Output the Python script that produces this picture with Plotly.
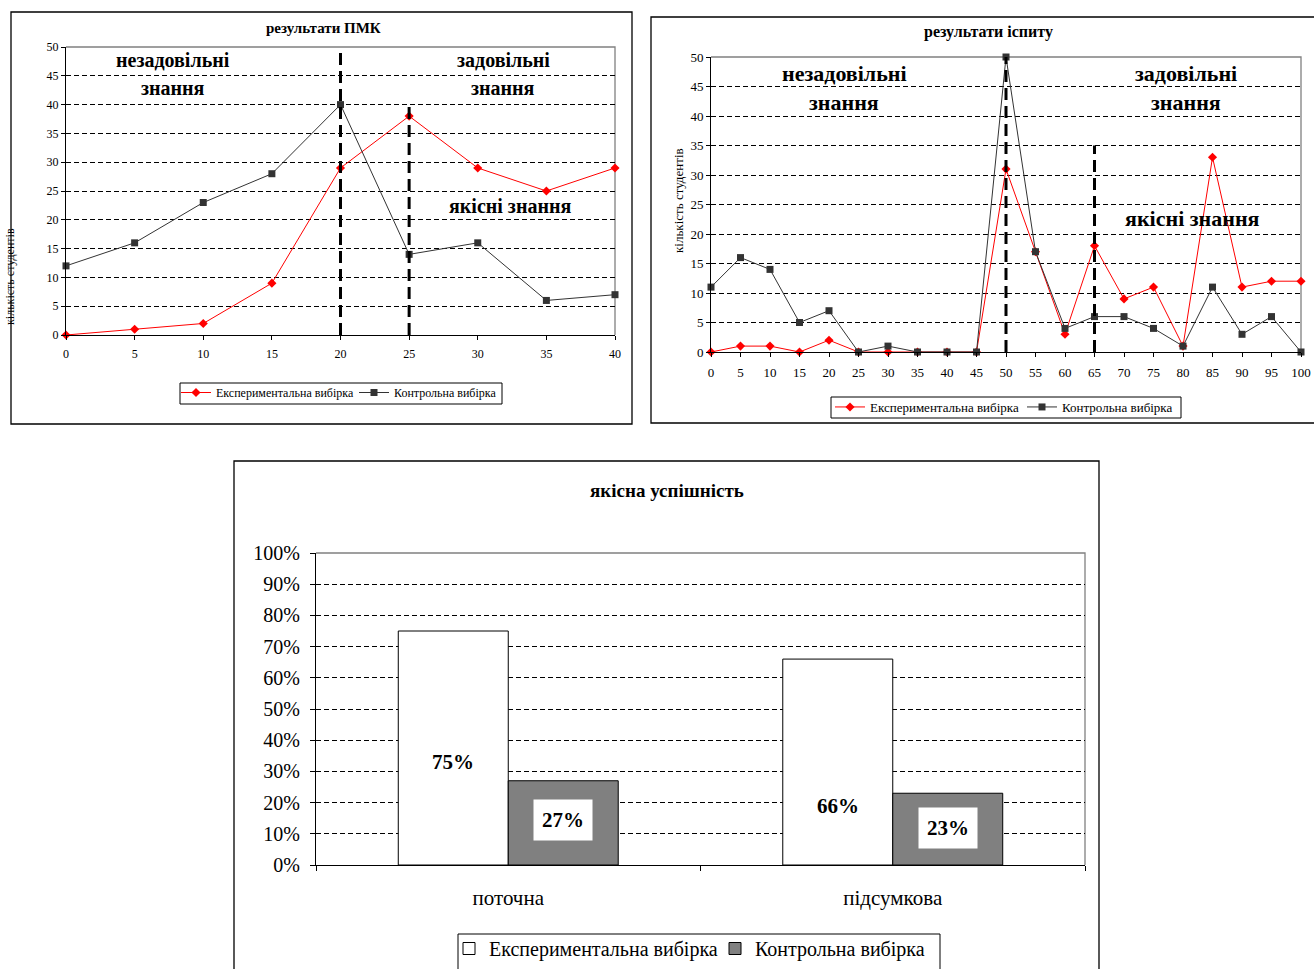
import plotly.graph_objects as go

# ---- data ----
pmk_scores = [0, 5, 10, 15, 20, 25, 30, 35, 40]
pmk_exp = [0, 1, 2, 9, 29, 38, 29, 25, 29]
pmk_ctrl = [12, 16, 23, 28, 40, 14, 16, 6, 7]
pmk_bounds = [20, 25]
pmk_bound_tops = [50, 40]

exam_scores = [0, 5, 10, 15, 20, 25, 30, 35, 40, 45, 50,
               55, 60, 65, 70, 75, 80, 85, 90, 95, 100]
exam_exp = [0, 1, 1, 0, 2, 0, 0, 0, 0, 0, 31,
            17, 3, 18, 9, 11, 1, 33, 11, 12, 12]
exam_ctrl = [11, 16, 14, 5, 7, 0, 1, 0, 0, 0, 50,
             17, 4, 6, 6, 4, 1, 11, 3, 6, 0]
exam_bounds = [50, 65]
exam_bound_tops = [50, 35]

quality_cats = ["поточна", "підсумкова"]
quality_exp = [0.75, 0.66]
quality_ctrl = [0.27, 0.23]

series_names = ["Експериментальна вибірка", "Контрольна вибірка"]

# ---- layout helpers (pixel -> paper) ----
W, H = 1314, 969
FONT = "Liberation Serif"


def px(x):
    return x / W


def py(y):
    return 1 - y / H


fig = go.Figure()

RED = "#ff0000"
DARK = "#333333"

# top-left: ПМК
fig.add_trace(go.Scatter(x=pmk_scores, y=pmk_exp, name=series_names[0],
                         mode="lines+markers", xaxis="x", yaxis="y",
                         line=dict(color=RED, width=1),
                         marker=dict(symbol="diamond", size=7, color=RED),
                         cliponaxis=False, legend="legend"))
fig.add_trace(go.Scatter(x=pmk_scores, y=pmk_ctrl, name=series_names[1],
                         mode="lines+markers", xaxis="x", yaxis="y",
                         line=dict(color=DARK, width=1),
                         marker=dict(symbol="square", size=7, color=DARK),
                         cliponaxis=False, legend="legend"))

# top-right: іспит
fig.add_trace(go.Scatter(x=exam_scores, y=exam_exp, name=series_names[0],
                         mode="lines+markers", xaxis="x2", yaxis="y2",
                         line=dict(color=RED, width=1),
                         marker=dict(symbol="diamond", size=7, color=RED),
                         cliponaxis=False, legend="legend2"))
fig.add_trace(go.Scatter(x=exam_scores, y=exam_ctrl, name=series_names[1],
                         mode="lines+markers", xaxis="x2", yaxis="y2",
                         line=dict(color=DARK, width=1),
                         marker=dict(symbol="square", size=7, color=DARK),
                         cliponaxis=False, legend="legend2"))

# bottom: якісна успішність
fig.add_trace(go.Bar(x=quality_cats, y=quality_exp, name=series_names[0],
                     xaxis="x3", yaxis="y3",
                     marker=dict(color="white", line=dict(color="black", width=1)),
                     legend="legend3"))
fig.add_trace(go.Bar(x=quality_cats, y=quality_ctrl, name=series_names[1],
                     xaxis="x3", yaxis="y3",
                     marker=dict(color="#808080", line=dict(color="black", width=1)),
                     legend="legend3"))

tick12 = dict(family=FONT, size=12, color="black")
tick13 = dict(family=FONT, size=13, color="black")
tick20 = dict(family=FONT, size=20, color="black")
grid_common = dict(showgrid=True, gridcolor="black", gridwidth=1, griddash="5px,3px")


def legend_at(x, y, size, entry):
    return dict(x=px(x), y=py(y), xanchor="left", yanchor="top",
                orientation="h", borderwidth=0, bgcolor="rgba(0,0,0,0)",
                font=dict(family=FONT, size=size, color="black"),
                itemwidth=30, entrywidth=entry, tracegroupgap=0)


fig.update_layout(
    width=W, height=H,
    margin=dict(l=0, r=0, t=0, b=0, autoexpand=False),
    paper_bgcolor="white", plot_bgcolor="white",
    font=dict(family=FONT, color="black"),
    barmode="group", bargap=0.428, bargroupgap=0,
    xaxis=dict(domain=[px(66), px(615)], range=[0, 40], tickvals=pmk_scores,
               showgrid=False, zeroline=False, showline=True, linecolor="black",
               ticks="outside", ticklen=4, tickcolor="black", tickfont=tick12,
               ticklabelstandoff=4, anchor="y"),
    yaxis=dict(domain=[py(335), py(47)], range=[0, 50], dtick=5,
               zeroline=False, showline=True, linecolor="black",
               ticks="outside", ticklen=4, tickcolor="black", tickfont=tick12,
               anchor="x", **grid_common),
    xaxis2=dict(domain=[px(711), px(1301)], range=[0, 100], tickvals=exam_scores,
                showgrid=False, zeroline=False, showline=True, linecolor="black",
                ticks="outside", ticklen=4, tickcolor="black", tickfont=tick13,
                ticklabelstandoff=4, anchor="y2"),
    yaxis2=dict(domain=[py(352), py(57)], range=[0, 50], dtick=5,
                zeroline=False, showline=True, linecolor="black",
                ticks="outside", ticklen=4, tickcolor="black", tickfont=tick13,
                anchor="x2", **grid_common),
    xaxis3=dict(domain=[px(316), px(1085)], showgrid=False, zeroline=False,
                showline=True, linecolor="black", ticks="outside", ticklen=5,
                tickcolor="black", tickson="boundaries",
                tickfont=dict(family=FONT, size=21, color="black"),
                ticklabelstandoff=14, anchor="y3"),
    yaxis3=dict(domain=[py(865), py(553)], range=[0, 1], dtick=0.1,
                tickformat=".0%", zeroline=False, showline=True, linecolor="black",
                ticks="outside", ticklen=5, tickcolor="black", tickfont=tick20,
                ticklabelstandoff=6, anchor="x3", **grid_common),
    legend=legend_at(176, 378, 12, 133),
    legend2=legend_at(830, 392, 13, 147),
    legend3=legend_at(449, 929, 20, 221),
)

shapes = []
# outer frames of the three charts
for x0, y0, x1, y1 in [(11, 12, 632, 424), (651, 17, 1330, 423), (234, 461, 1099, 990)]:
    shapes.append(dict(type="rect", xref="paper", yref="paper",
                       x0=px(x0), x1=px(x1), y0=py(y1), y1=py(y0),
                       line=dict(color="black", width=1.3), layer="above"))
# legend boxes
for x0, y0, x1, y1 in [(180, 383, 502, 404), (831, 397, 1181, 418), (458, 934, 940, 985)]:
    shapes.append(dict(type="rect", xref="paper", yref="paper",
                       x0=px(x0), x1=px(x1), y0=py(y1), y1=py(y0),
                       line=dict(color="black", width=1), fillcolor="white",
                       layer="below"))
# grey top/right border of each plot area
for xr, yr in [("x", "y"), ("x2", "y2"), ("x3", "y3")]:
    shapes.append(dict(type="path", xref=f"{xr} domain", yref=f"{yr} domain",
                       path="M 0,1 L 1,1 L 1,0", line=dict(color="#808080", width=1.3),
                       layer="below"))
# thick dashed boundaries between knowledge levels
for bx, top in zip(pmk_bounds, pmk_bound_tops):
    shapes.append(dict(type="line", xref="x", yref="y", x0=bx, x1=bx, y0=0, y1=top,
                       line=dict(color="black", width=3, dash="12px,6px")))
for bx, top in zip(exam_bounds, exam_bound_tops):
    shapes.append(dict(type="line", xref="x2", yref="y2", x0=bx, x1=bx, y0=0, y1=top,
                       line=dict(color="black", width=3, dash="12px,6px")))
fig.update_layout(shapes=shapes)

annotations = []


def note(x, y, text, size, bold=True, **kw):
    t = f"<b>{text}</b>" if bold else text
    annotations.append(dict(xref="paper", yref="paper", x=px(x), y=py(y), text=t,
                            showarrow=False, xanchor="center", yanchor="middle",
                            font=dict(family=FONT, size=size, color="black"), **kw))


# chart titles
note(323, 28, "результати ПМК", 15)
note(988, 32, "результати іспиту", 16)
note(667, 490, "якісна успішність", 19)
# axis titles
note(10, 277, "кількість студентів", 12, bold=False, textangle=-90)
note(679, 201, "кількість студентів", 13, bold=False, textangle=-90)
# zone captions, ПМК
note(173, 60, "незадовільні", 20)
note(173, 88, "знання", 20)
note(503, 60, "задовільні", 20)
note(503, 88, "знання", 20)
note(510, 206, "якісні знання", 20)
# zone captions, іспит
note(844, 74, "незадовільні", 22)
note(844, 102, "знання", 22)
note(1186, 74, "задовільні", 22)
note(1186, 102, "знання", 22)
note(1192, 219, "якісні знання", 22)

# value labels on bars
bar_px = 110  # one bar width in pixels
label_heights_exp = [0.33, 0.19]
label_heights_ctrl = [0.144, 0.12]
for cat, v, hy in zip(quality_cats, quality_exp, label_heights_exp):
    annotations.append(dict(xref="x3", yref="y3", x=cat, y=hy, xshift=-bar_px / 2,
                            text=f"<b>{round(v * 100)}%</b>", showarrow=False,
                            bgcolor="white", borderpad=6,
                            font=dict(family=FONT, size=21, color="black")))
for cat, v, hy in zip(quality_cats, quality_ctrl, label_heights_ctrl):
    annotations.append(dict(xref="x3", yref="y3", x=cat, y=hy, xshift=bar_px / 2,
                            text=f"<b>{round(v * 100)}%</b>", showarrow=False,
                            bgcolor="white", borderpad=8,
                            font=dict(family=FONT, size=21, color="black")))
fig.update_layout(annotations=annotations)

fig.write_html("out.html")
